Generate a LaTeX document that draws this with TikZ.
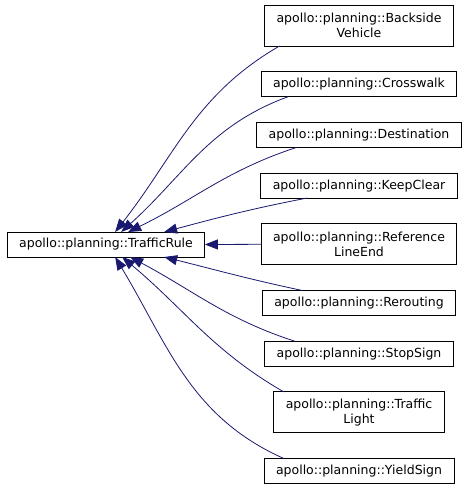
\documentclass[tikz,border=0pt]{standalone}
\usepackage{fontspec}
\setmainfont{DejaVu Sans}
\usetikzlibrary{positioning}
\usetikzlibrary{arrows.meta}
\definecolor{dgnavy}{HTML}{191970}

\begin{document}
\begin{tikzpicture}[
    cls/.style={draw=black, line width=0.9pt, fill=white, inner xsep=12pt, inner ysep=2pt,
        outer sep=0pt, minimum height=25pt, align=center, font=\fontsize{12.5}{14.5}\selectfont},
    twoline/.style={minimum height=41pt},
    inherit/.style={draw=dgnavy, line width=0.8pt, -{Triangle[length=13pt,width=10pt]}}
]
    \useasboundingbox (0,0) rectangle (469pt,-490pt);
    \node[cls] (TR) at (106pt,-244.5pt) {apollo::planning::TrafficRule};

    \node[cls, twoline] (R1) at (359pt,-25.5pt) {apollo::planning::Backside\\Vehicle};
    \node[cls, below=25.7pt of R1] (R2) {apollo::planning::Crosswalk};
    \node[cls, below=25.7pt of R2] (R3) {apollo::planning::Destination};
    \node[cls, below=25.7pt of R3] (R4) {apollo::planning::KeepClear};
    \node[cls, twoline, below=25.7pt of R4] (R5) {apollo::planning::Reference\\LineEnd};
    \node[cls, below=25.7pt of R5] (R6) {apollo::planning::Rerouting};
    \node[cls, below=25.7pt of R6] (R7) {apollo::planning::StopSign};
    \node[cls, twoline, below=25.7pt of R7] (R8) {apollo::planning::Traffic\\Light};
    \node[cls, below=25.7pt of R8] (R9) {apollo::planning::YieldSign};

    \draw[inherit] ([xshift=15pt]R1.south west) to[out=210, in=52] ([xshift=108pt]TR.north west);
    \draw[inherit] ([xshift=27pt]R2.south west) to[out=200, in=42] ([xshift=114pt]TR.north west);
    \draw[inherit] ([xshift=40pt]R3.south west) to[out=198, in=26] ([xshift=121pt]TR.north west);
    \draw[inherit] ([xshift=46pt]R4.south west) to[out=191, in=15] ([xshift=157pt]TR.north west);
    \draw[inherit] (R5.west) -- (TR.east);
    \draw[inherit] ([xshift=40pt]R6.north west) to[out=168, in=-14] ([xshift=157pt]TR.south west);
    \draw[inherit] ([xshift=30pt]R7.north west) to[out=162, in=-28] ([xshift=123pt]TR.south west);
    \draw[inherit] ([xshift=10pt]R8.north west) to[out=150, in=-40] ([xshift=115pt]TR.south west);
    \draw[inherit] ([xshift=20pt]R9.north west) to[out=156, in=-59] ([xshift=108pt]TR.south west);
\end{tikzpicture}
\end{document}
